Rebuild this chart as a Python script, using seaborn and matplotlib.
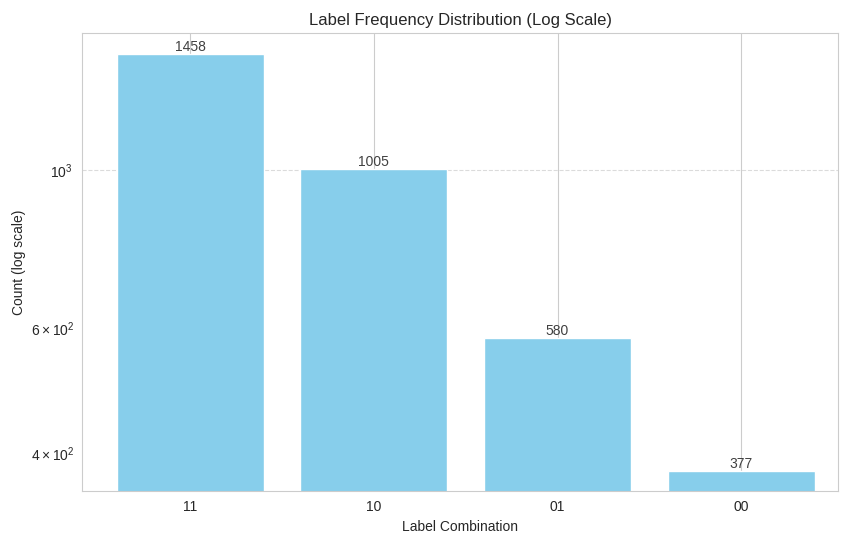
import numpy as np
import pandas as pd
import matplotlib
matplotlib.use("Agg")
import matplotlib.pyplot as plt
import seaborn as sns

# Dados do gráfico
combinations = ["11", "10", "01", "00"]
counts = [1458, 1005, 580, 377]

sns.set_style("whitegrid")
plt.rcParams['font.family'] = ['Liberation Sans', 'DejaVu Sans']

df = pd.DataFrame({"combo": combinations, "count": counts})

fig, ax = plt.subplots(figsize=(8.41, 5.34), dpi=100)
sns.barplot(data=df, x="combo", y="count", color="skyblue", saturation=1,
            width=0.8, ax=ax)
ax.set_yscale("log")
ax.set_ylim(354, 1558)
ax.set_xlim(-0.587, 3.525)

# rótulos em cima das barras
for i, c in enumerate(counts):
    ax.text(i, c, str(c), ha="center", va="bottom", fontsize=10, color=".25")

ax.grid(axis="y", which="major", linestyle="--", alpha=0.7)
ax.grid(axis="x", which="major", linestyle="-")
ax.set_axisbelow(True)

ax.set_title("Label Frequency Distribution (Log Scale)", fontsize=12)
ax.set_xlabel("Label Combination", fontsize=10)
ax.set_ylabel("Count (log scale)", fontsize=10)
ax.tick_params(axis="both", labelsize=10)

fig.subplots_adjust(left=0.098, right=0.996, top=0.938, bottom=0.081)
fig.savefig("out.png", dpi=100)
